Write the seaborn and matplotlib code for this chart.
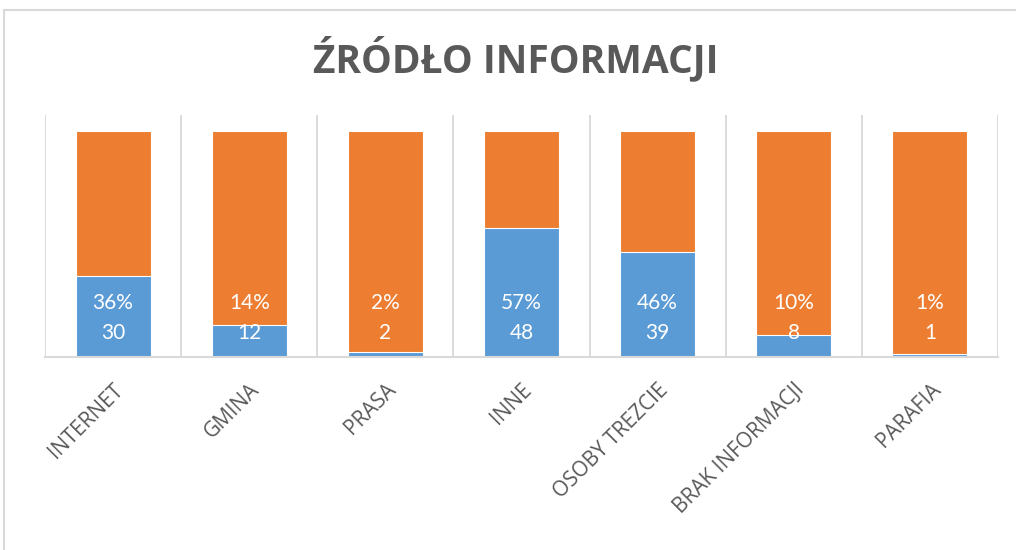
import matplotlib
matplotlib.use("Agg")
import matplotlib.pyplot as plt
import seaborn as sns
import pandas as pd
import numpy as np
from matplotlib.patches import Rectangle

categories = ["INTERNET", "GMINA", "PRASA", "INNE", "OSOBY TREZCIE", "BRAK INFORMACJI", "PARAFIA"]
yes_counts = [30, 12, 2, 48, 39, 8, 1]
no_counts = [54, 72, 82, 36, 45, 76, 83]
pct_labels = ["36%", "14%", "2%", "57%", "46%", "10%", "1%"]
title_text = "ŹRÓDŁO INFORMACJI"

BLUE = "#5B9BD5"
ORANGE = "#ED7D31"
GRID = "#D9D9D9"
TEXT = "#595959"

sns.set_theme(style="white")
plt.rcParams["font.family"] = ["Lato", "DejaVu Sans"]

totals = [a + b for a, b in zip(yes_counts, no_counts)]
df = pd.DataFrame({
    "cat": categories,
    "yes_pct": [100.0 * a / t for a, t in zip(yes_counts, totals)],
    "total_pct": [100.0 * (a + b) / t for a, b, t in zip(yes_counts, no_counts, totals)],
})

fig = plt.figure(figsize=(10.16, 5.5), dpi=100)
ax = fig.add_axes([45 / 1016, 1 - 357 / 550, (998 - 45) / 1016, (357 - 115) / 550])

sns.barplot(data=df, x="cat", y="total_pct", color=ORANGE, saturation=1, width=0.55,
            edgecolor="white", linewidth=0.8, ax=ax)
sns.barplot(data=df, x="cat", y="yes_pct", color=BLUE, saturation=1, width=0.55,
            edgecolor="white", linewidth=0.8, ax=ax)

ax.set_ylim(0, 100 * 242 / 226)
ax.set_xlim(-0.5, len(categories) - 0.5)
ax.set_xlabel("")
ax.set_ylabel("")
ax.set_yticks([])

ax.set_xticks(np.arange(-0.5, len(categories), 1.0), minor=True)
ax.grid(False)
ax.grid(True, which="minor", axis="x", color=GRID, linewidth=1.3)
ax.tick_params(axis="x", which="both", length=0)
for s in ["top", "left", "right"]:
    ax.spines[s].set_visible(False)
ax.spines["bottom"].set_color(GRID)
ax.spines["bottom"].set_linewidth(1.5)

ax.set_xticks(range(len(categories)))
ax.set_xticklabels(categories, rotation=45, ha="right", va="top", rotation_mode="anchor",
                   fontsize=15, color=TEXT, family=["Open Sans", "DejaVu Sans"])
ax.tick_params(axis="x", which="major", pad=16)

for i, (p, c) in enumerate(zip(pct_labels, yes_counts)):
    ax.annotate(p, xy=(i, 0), xytext=(0, 54), textcoords="offset pixels",
                ha="center", va="center", color="white", fontsize=15)
    ax.annotate(str(c), xy=(i, 0), xytext=(0, 24), textcoords="offset pixels",
                ha="center", va="center", color="white", fontsize=15)

fig.text(516 / 1016, 1 - 58 / 550, title_text, ha="center", va="center",
         fontsize=28, fontweight="bold", color=TEXT, family=["Open Sans", "DejaVu Sans"])

fig.patches.append(Rectangle((4 / 1016, -0.05), 1.2, 1 - 9.5 / 550 + 0.05,
                             transform=fig.transFigure, fill=False,
                             edgecolor=GRID, linewidth=1.5))

fig.savefig("out.png", dpi=100)
